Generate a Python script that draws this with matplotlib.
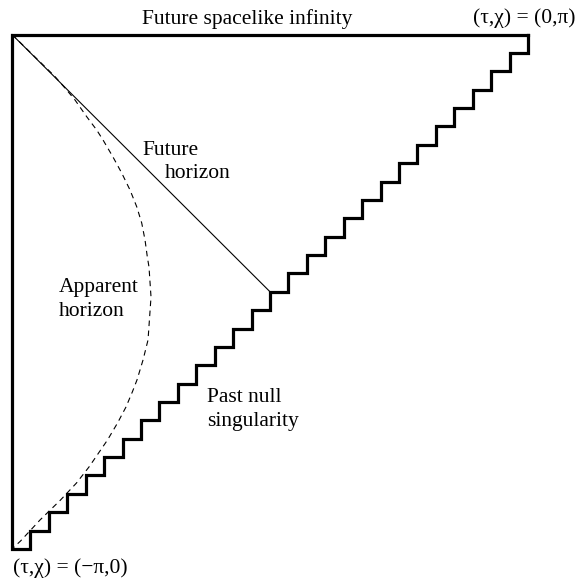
import numpy as np
import matplotlib.pyplot as plt

# Penrose-like diagram, chi on x, tau on y (both in units of pi)
n_steps = 28

# apparent horizon (chi/pi, tau/pi)
chi_ah = [0.0, 0.0833, 0.1060, 0.1221, 0.1448, 0.1641, 0.1764, 0.1957, 0.2126,
          0.2287, 0.2417, 0.2514, 0.2578, 0.2622, 0.2655, 0.2694, 0.2636, 0.2539,
          0.2422, 0.2335, 0.2209, 0.2045, 0.1851, 0.1492, 0.1250, 0.0940, 0.0543,
          0.0165, 0.0]
tau_ah = [0.0, -0.0817, -0.1079, -0.1273, -0.1598, -0.1856, -0.2050, -0.2381, -0.2692,
          -0.3022, -0.3347, -0.3664, -0.3994, -0.4319, -0.4519, -0.5102, -0.5938, -0.6327,
          -0.6715, -0.6940, -0.7240, -0.7551, -0.7881, -0.8406, -0.8717, -0.9048, -0.9436,
          -0.9845, -1.0]

# future horizon: from (chi,tau)=(0,0) to the middle of the staircase
horizon_chi = [0.0, 0.5]
horizon_tau = [0.0, -0.5]

top_label = "(τ,χ) = (0,π)"
bottom_label = "(τ,χ) = (−π,0)"

W, H = 582, 579
fig = plt.figure(figsize=(W / 100, H / 100), dpi=100)
ax = fig.add_axes([0, 0, 1, 1])
ax.axis('off')

# pixel mapping of the box corners
x0, x1 = 12, 528
y0, y1 = 34.5, 549
sx = (x1 - x0)
sy = (y1 - y0)
ax.set_xlim(np.pi * (0 - x0) / sx, np.pi * (W - x0) / sx)
ax.set_ylim(-np.pi * (H - y0) / sy, np.pi * y0 / sy)

# boundary: top edge, left edge, staircase
d = np.pi / n_steps
bx = [np.pi, 0, 0]
by = [0, 0, -np.pi]
for k in range(n_steps):
    bx += [(k + 1) * d, (k + 1) * d]
    by += [-np.pi + k * d, -np.pi + (k + 1) * d]
ax.plot(bx, by, color='black', lw=2.3, solid_joinstyle='miter', solid_capstyle='projecting')

ax.plot(np.array(horizon_chi) * np.pi, np.array(horizon_tau) * np.pi, color='black', lw=0.8)
ax.plot(np.array(chi_ah) * np.pi, np.array(tau_ah) * np.pi, color='black', lw=0.8,
        dashes=(5, 4))

font = dict(family='Liberation Serif', size=15.5, color='black')

def label(px, py, s):
    fig.text(px / W, 1 - py / H, s, ha='left', va='baseline', **font)

label(142, 24, "Future spacelike infinity")
label(473, 23, top_label)
label(142, 155, "Future")
label(165, 178, "horizon")
label(59, 292, "Apparent")
label(59, 316, "horizon")
label(207, 402, "Past null")
label(207, 426, "singularity")
label(13, 573, bottom_label)

fig.savefig('out.png', dpi=100)
